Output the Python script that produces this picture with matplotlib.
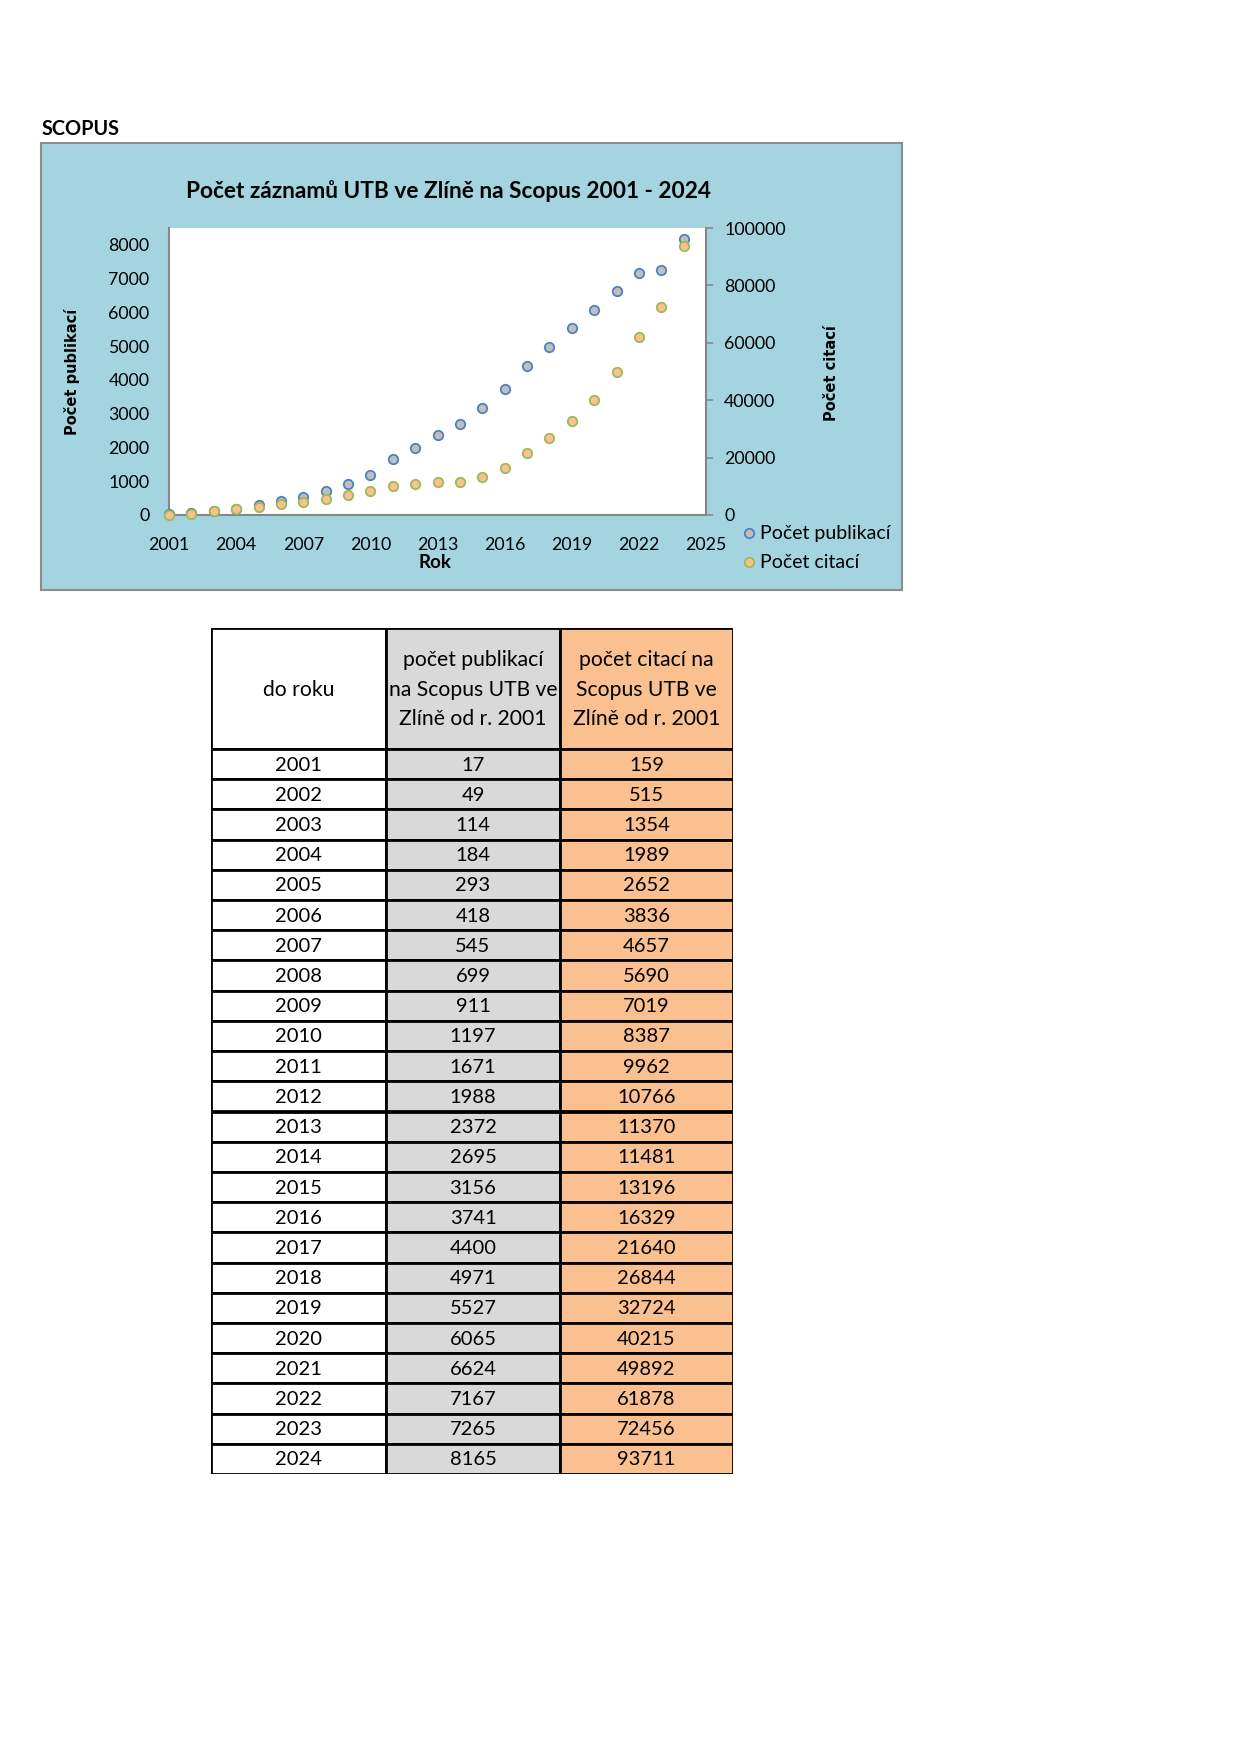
import matplotlib
matplotlib.use("Agg")
import matplotlib.pyplot as plt
from matplotlib.patches import Rectangle

# ---- data ----
years = [2001, 2002, 2003, 2004, 2005, 2006, 2007, 2008, 2009, 2010, 2011, 2012,
         2013, 2014, 2015, 2016, 2017, 2018, 2019, 2020, 2021, 2022, 2023, 2024]
publications = [17, 49, 114, 184, 293, 418, 545, 699, 911, 1197, 1671, 1988,
                2372, 2695, 3156, 3741, 4400, 4971, 5527, 6065, 6624, 7167, 7265, 8165]
citations = [159, 515, 1354, 1989, 2652, 3836, 4657, 5690, 7019, 8387, 9962, 10766,
             11370, 11481, 13196, 16329, 21640, 26844, 32724, 40215, 49892, 61878, 72456, 93711]
x_ticks = [2001, 2004, 2007, 2010, 2013, 2016, 2019, 2022, 2025]
left_ticks = [0, 1000, 2000, 3000, 4000, 5000, 6000, 7000, 8000]
right_ticks = [0, 20000, 40000, 60000, 80000, 100000]
chart_title = "Počet záznamů UTB ve Zlíně na Scopus 2001 - 2024"
series_names = ["Počet publikací", "Počet citací"]
table_header = ["do roku", "počet publikací\nna Scopus UTB ve\nZlíně od r. 2001",
                "počet citací na\nScopus UTB ve\nZlíně od r. 2001"]

W, H = 1241, 1755
plt.rcParams['font.family'] = ['Lato', 'DejaVu Sans']
fig = plt.figure(figsize=(W / 100, H / 100), dpi=100)
fig.patch.set_facecolor('white')

def fx(px):
    return px / W

def fy(py):
    return 1 - py / H

# chart panel background
panel_bg = '#A5D4E1'
panel = Rectangle((fx(41), fy(590)), fx(902) - fx(41), fy(143) - fy(590),
                  transform=fig.transFigure, facecolor=panel_bg, edgecolor='#8C8C8C',
                  linewidth=1.5, zorder=-5)
fig.patches.append(panel)

fig.text(fx(42), fy(129), "SCOPUS", fontsize=14.3, fontweight='bold', ha='left', va='center')
fig.text(fx(449), fy(191), chart_title, fontsize=16.3, fontweight='bold', ha='center', va='center')

# plot area
L, R, T, B = 169, 706, 228, 515
ax = fig.add_axes([fx(L), fy(B), fx(R) - fx(L), fy(T) - fy(B)])
ax.set_facecolor('white')
ax2 = ax.twinx()

spine_c = '#868686'
for a in (ax, ax2):
    for s in a.spines.values():
        s.set_visible(False)
ax.spines['left'].set_visible(True)
ax.spines['bottom'].set_visible(True)
ax2.spines['right'].set_visible(True)
for s in (ax.spines['left'], ax.spines['bottom'], ax2.spines['right']):
    s.set_color(spine_c)
    s.set_linewidth(1.5)

ax.plot(years, publications, linestyle='none', marker='o', markersize=6.8,
        markerfacecolor='#BFBFBF', markeredgecolor='#4F81BD', markeredgewidth=1.3,
        clip_on=False, zorder=3)
ax2.plot(years, citations, linestyle='none', marker='o', markersize=6.8,
         markerfacecolor='#FAC090', markeredgecolor='#9BBB59', markeredgewidth=1.3,
         clip_on=False, zorder=3)

ax.set_xlim(2001, 2025)
ax.set_ylim(0, 8500)
ax2.set_ylim(0, 100000)
ax.set_xticks(x_ticks)
ax.set_xticklabels([str(t) for t in x_ticks])
ax.set_yticks(left_ticks)
ax.set_yticklabels([str(t) for t in left_ticks])
ax2.set_yticks(right_ticks)
ax2.set_yticklabels([str(t) for t in right_ticks])
ax.tick_params(axis='x', length=0, pad=16, labelsize=12.8)
ax.tick_params(axis='y', length=0, pad=14, labelsize=12.8)
ax2.tick_params(axis='y', length=5, width=1.2, color=spine_c, pad=8, labelsize=12.8)

fig.text(fx(435), fy(562), "Rok", fontsize=13.5, fontweight='bold', ha='center', va='center')
fig.text(fx(72), fy(372), series_names[0], fontsize=10.5, fontweight='bold', rotation=90,
         ha='center', va='center', family='DejaVu Sans')
fig.text(fx(831), fy(373), series_names[1], fontsize=10.5, fontweight='bold', rotation=90,
         ha='center', va='center', family='DejaVu Sans')

# legend
for i, (name, fc, ec) in enumerate([(series_names[0], '#BFBFBF', '#4F81BD'),
                                    (series_names[1], '#FAC090', '#9BBB59')]):
    ly = [533, 562][i]
    fig.lines.append(plt.Line2D([fx(749)], [fy(ly)], transform=fig.transFigure,
                                linestyle='none', marker='o', markersize=6.8,
                                markerfacecolor=fc, markeredgecolor=ec, markeredgewidth=1.3))
    fig.text(fx(760), fy(ly), name, fontsize=14, ha='left', va='center')

# ---- table ----
col_x = [211, 386, 560, 733]
top, header_bottom, bottom = 628, 749, 1474
tax = fig.add_axes([fx(col_x[0]), fy(bottom), fx(col_x[-1]) - fx(col_x[0]), fy(top) - fy(bottom)])
tax.set_axis_off()
n = len(years)
row_h = (bottom - header_bottom) / n
tax.set_xlim(col_x[0], col_x[-1])
tax.set_ylim(bottom, top)
col_colors = ['white', '#D9D9D9', '#FAC090']
# header
for c in range(3):
    tax.add_patch(Rectangle((col_x[c], top), col_x[c + 1] - col_x[c], header_bottom - top,
                            facecolor=col_colors[c], edgecolor='black', linewidth=2))
    tax.text((col_x[c] + col_x[c + 1]) / 2, (top + header_bottom) / 2 + 1, table_header[c],
             ha='center', va='center', fontsize=15.2, linespacing=1.62)
for r in range(n):
    y0 = header_bottom + r * row_h
    vals = [years[r], publications[r], citations[r]]
    for c in range(3):
        tax.add_patch(Rectangle((col_x[c], y0), col_x[c + 1] - col_x[c], row_h,
                                facecolor=col_colors[c], edgecolor='black', linewidth=2))
        tax.text((col_x[c] + col_x[c + 1]) / 2, y0 + row_h / 2 + 1, str(vals[c]),
                 ha='center', va='center', fontsize=14.5)

fig.savefig("out.png", dpi=100, facecolor='white')
